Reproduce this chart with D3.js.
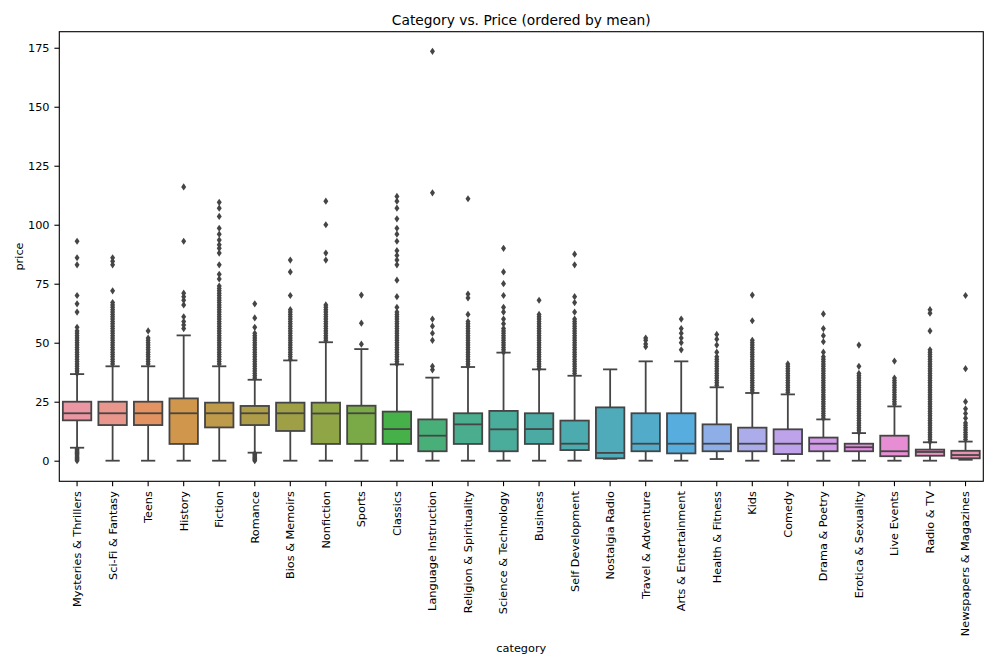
<!DOCTYPE html>
<html>
<head>
<meta charset="utf-8">
<script src="https://cdn.jsdelivr.net/npm/d3@7"></script>
<style>
  body { margin: 0; background: #fff; }
  svg { font-family: "DejaVu Sans", sans-serif; }
</style>
</head>
<body>
<svg id="svg"></svg>
<script>
//data

let categories = ["Mysteries & Thrillers", "Sci-Fi & Fantasy", "Teens", "History", "Fiction", "Romance",
  "Bios & Memoirs", "Nonfiction", "Sports", "Classics", "Language Instruction", "Religion & Spirituality",
  "Science & Technology", "Business", "Self Development", "Nostalgia Radio", "Travel & Adventure",
  "Arts & Entertainment", "Health & Fitness", "Kids", "Comedy", "Drama & Poetry", "Erotica & Sexuality",
  "Live Events", "Radio & TV", "Newspapers & Magazines"];

let q1 = [17.1, 15.1, 15.1, 7.1, 14.1, 15.1, 12.6, 7.1, 7.1, 7.1, 4.0, 7.1, 4.0, 7.1, 4.5, 1.0, 4.0, 3.1, 4.0, 4.0, 2.8, 4.0, 4.0, 1.9, 2.1, 1.0];
let medians = [20.1, 20.1, 20.1, 20.1, 20.1, 20.1, 20.1, 20.0, 20.1, 13.4, 10.6, 15.4, 13.3, 13.4, 7.2, 3.3, 7.2, 7.2, 7.2, 7.2, 7.2, 7.2, 5.7, 4.0, 3.7, 2.4];
let q3 = [25.0, 25.0, 25.0, 26.4, 24.6, 23.2, 24.6, 24.6, 23.3, 20.8, 17.5, 20.1, 21.1, 20.1, 17.0, 22.6, 20.1, 20.1, 15.4, 14.0, 13.3, 9.8, 7.2, 10.6, 4.7, 4.2];
let whiskerLow = [5.5, 0, 0, 0, 0, 3.4, 0, 0, 0, 0, 0, 0, 0, 0, 0, 0.8, 0, 0, 0.7, 0, 0, 0, 0, 0, 0, 0.4];
let whiskerHigh = [36.7, 40.0, 40.0, 53.1, 40.0, 34.3, 42.5, 50.2, 47.3, 40.8, 35.2, 39.7, 45.8, 38.7, 36.0, 38.7, 42.1, 42.1, 31.1, 28.7, 28.1, 17.5, 11.7, 23.0, 7.8, 8.1];

let outliers = [
  [0, 0.5, 1, 1.5, 2, 2.5, 3, 3.5, 4, 4.5, 5, 37, 38, 39, 40, 41, 42, 43, 44, 45, 46, 47, 48, 49, 50, 51, 52, 53, 54, 55, 56.5, 63, 66.5, 70, 83, 86, 93],
  [41, 42, 43, 44, 45, 46, 47, 48, 49, 50, 51, 52, 53, 54, 55, 56, 57, 58, 59, 60, 61, 62, 63, 64, 65, 66, 67, 72, 83, 84.5, 86],
  [41, 42, 43, 44, 45, 46, 47, 48, 49, 50, 51, 52, 55],
  [56, 57.5, 59, 61, 66, 68, 69.5, 71, 93, 116],
  [41, 42, 43, 44, 45, 46, 47, 48, 49, 50, 51, 52, 53, 54, 55, 56, 57, 58, 59, 60, 61, 62, 63, 64, 65, 66, 67, 68, 69, 70, 71, 72, 73, 74, 77, 79, 83, 88, 90, 91.5, 93.5, 96, 98.5, 103.5, 107, 109.5],
  [0, 0.5, 1, 1.5, 2, 2.5, 3, 35, 36, 37, 38, 39, 40, 41, 42, 43, 44, 45, 46, 47, 48, 49, 50, 51, 52, 53, 54, 56.5, 60.5, 66.5],
  [43, 44, 45, 46, 47, 48, 49, 50, 51, 52, 53, 54, 55, 56, 57, 58, 59, 60, 61, 62, 63, 64, 70, 80, 85],
  [51, 52, 53, 54, 55, 56, 57, 58, 59, 60, 61, 62, 63, 64, 65, 66, 85, 88, 100, 110],
  [49.4, 58.3, 70.2],
  [41, 42, 43, 44, 45, 46, 47, 48, 49, 50, 51, 52, 53, 54, 55, 56, 57, 58, 59, 60, 61, 62, 63, 65, 69.5, 76.5, 83, 85, 87, 89, 93, 96, 98.5, 102.5, 107, 110, 112],
  [38.5, 40, 51, 54, 57, 60, 113.5, 173.5],
  [40, 41, 42, 43, 44, 45, 46, 47, 48, 49, 50, 51, 52, 53, 54, 55, 56, 57, 58, 59, 62, 69, 70.6, 111],
  [46, 47, 48, 49, 50, 51, 52, 53, 54, 55, 56, 58, 60, 63, 65, 70, 75, 80, 90],
  [39, 40, 41, 42, 43, 44, 45, 46, 47, 48, 49, 50, 51, 52, 53, 54, 55, 56, 57, 58, 59, 60, 61, 62, 68],
  [37, 38, 39, 40, 41, 42, 43, 44, 45, 46, 47, 48, 49, 50, 51, 52, 53, 54, 55, 56, 57, 58, 59, 60, 63, 67, 69.5, 83, 87.5],
  [],
  [48.3, 49.5, 51, 52],
  [47, 50, 52, 54, 56, 60],
  [32, 33, 34, 35, 36, 37, 38, 39, 40, 41, 42, 43, 44, 46, 49, 51.5, 53.5],
  [29, 30, 31, 32, 33, 34, 35, 36, 37, 38, 39, 40, 41, 42, 43, 44, 45, 46, 47, 48, 49, 50, 51, 59.3, 70.2],
  [29, 30, 31, 32, 33, 34, 35, 36, 37, 38, 39, 40, 41],
  [18, 19, 20, 21, 22, 23, 24, 25, 26, 27, 28, 29, 30, 31, 32, 33, 34, 35, 36, 37, 38, 39, 40, 41, 42, 43, 44, 46, 50.4, 53, 56, 62.2],
  [12, 13, 14, 15, 16, 17, 18, 19, 20, 21, 22, 23, 24, 25, 26, 27, 28, 29, 30, 31, 32, 33, 34, 35, 36, 37, 40, 49],
  [24, 25, 26, 27, 28, 29, 30, 31, 32, 33, 34, 35, 42.2],
  [8, 9, 10, 11, 12, 13, 14, 15, 16, 17, 18, 19, 20, 21, 22, 23, 24, 25, 26, 27, 28, 29, 30, 31, 32, 33, 34, 35, 36, 37, 38, 39, 40, 41, 42, 43, 44, 45, 46, 47, 55, 62.5, 64],
  [9, 10, 11, 12, 13, 14, 15, 16, 18, 20, 22, 25, 39, 70]
];

let yTicks = [0, 25, 50, 75, 100, 125, 150, 175];

//variables

let svg = d3.select("#svg");
let width = 1000;
let height = 666;
let plotLeft = 59.3, plotRight = 983.3, plotTop = 31.7, plotBottom = 481.3;
let fontSize = 11.3;

let xScale;
let yScale;
let colors;
let gray;

//husl palette like seaborn uses for many categories

let husl = (H, S, L) => {
  let m = [[3.2406, -1.5372, -0.4986], [-0.9689, 1.8758, 0.0415], [0.0557, -0.2040, 1.0570]];
  let hrad = H / 180 * Math.PI;
  let sinH = Math.sin(hrad), cosH = Math.cos(hrad);
  let sub1 = Math.pow(L + 16, 3) / 1560896;
  let sub2 = sub1 > 0.008856 ? sub1 : L / 903.3;
  let mx = Infinity;
  m.forEach(r => {
    let tp = (0.99915 * r[0] + 1.05122 * r[1] + 1.14460 * r[2]) * sub2;
    let rb = 0.86330 * r[2] - 0.17266 * r[1];
    let lb = 0.12949 * r[2] - 0.38848 * r[0];
    let bot = (rb * sinH + lb * cosH) * sub2;
    [0, 1].forEach(t => {
      let C = L * (tp - 1.05122 * t) / (bot + 0.17266 * sinH * t);
      if (C > 0 && C < mx) mx = C;
    });
  });
  let C = mx / 100 * S;
  let U = Math.cos(hrad) * C, V = Math.sin(hrad) * C;
  let t = (L + 16) / 116;
  let varY = Math.pow(t, 3) > 0.008856 ? Math.pow(t, 3) : (116 * t - 16) / 903.3;
  let varU = U / (13 * L) + 0.19784;
  let varV = V / (13 * L) + 0.46834;
  let Y = varY;
  let X = -(9 * Y * varU) / ((varU - 4) * varV - varU * varV);
  let Z = (9 * Y - 15 * varV * Y - varV * X) / (3 * varV);
  let rgb = m.map(r => {
    let c = r[0] * X + r[1] * Y + r[2] * Z;
    c = c <= 0.0031308 ? 12.92 * c : 1.055 * Math.pow(c, 1 / 2.4) - 0.055;
    return Math.max(0, Math.min(1, c)) * 255;
  });
  return d3.rgb(rgb[0], rgb[1], rgb[2]);
}

let makeColors = () => {
  let n = categories.length;
  colors = categories.map((c, i) => {
    let h = ((i / n + 0.01) % 1) * 359;
    let hsl = d3.hsl(husl(h, 0.9 * 99, 0.7 * 99));
    hsl.s *= 0.75;
    return hsl;
  });
  let lum = d3.min(colors, c => c.l) * 0.6 * 255;
  gray = d3.rgb(lum, lum, lum).formatHex();
}

let makeBackground = () => {
  svg.attr("width", width).attr("height", height);
  svg.append("rect").attr("width", width).attr("height", height).attr("fill", "#fff");
}

let scaleFunction = () => {
  xScale = d3.scaleBand()
    .domain(categories)
    .range([plotLeft, plotRight])
    .padding(0);
  yScale = d3.scaleLinear()
    .domain([-8.73, 181.8])
    .range([plotBottom, plotTop]);
}

let makeAxes = () => {
  let xAxis = d3.axisBottom(xScale).tickSizeInner(4.9).tickSizeOuter(0).tickPadding(4.9);
  let yAxis = d3.axisLeft(yScale).tickValues(yTicks).tickSizeInner(4.9).tickSizeOuter(0).tickPadding(4.9);

  let gx = svg.append("g")
    .attr("id", "x-axis")
    .attr("transform", "translate(0, " + plotBottom + ")")
    .call(xAxis);
  gx.select(".domain").remove();
  gx.selectAll("line").attr("stroke", "#000").attr("stroke-width", 1.1);
  gx.selectAll("text")
    .attr("transform", "rotate(-90)")
    .attr("x", -9.8)
    .attr("y", 0)
    .attr("dy", "0.35em")
    .attr("text-anchor", "end")
    .attr("font-size", fontSize)
    .attr("font-family", "DejaVu Sans")
    .attr("fill", "#000");

  let gy = svg.append("g")
    .attr("id", "y-axis")
    .attr("transform", "translate(" + plotLeft + ", 0)")
    .call(yAxis);
  gy.select(".domain").remove();
  gy.selectAll("line").attr("stroke", "#000").attr("stroke-width", 1.1);
  gy.selectAll("text")
    .attr("font-size", fontSize)
    .attr("font-family", "DejaVu Sans")
    .attr("fill", "#000");
}

let makeGraph = () => {
  let bw = xScale.bandwidth() * 0.8;
  let lw = 1.8;
  let boxes = svg.append("g").selectAll("g")
    .data(categories)
    .enter()
    .append("g")
    .attr("transform", d => "translate(" + (xScale(d) + xScale.bandwidth() / 2) + ",0)");

  //whiskers
  boxes.append("line")
    .attr("x1", 0).attr("x2", 0)
    .attr("y1", (d, i) => yScale(whiskerHigh[i]))
    .attr("y2", (d, i) => yScale(q3[i]))
    .attr("stroke", gray).attr("stroke-width", lw);
  boxes.append("line")
    .attr("x1", 0).attr("x2", 0)
    .attr("y1", (d, i) => yScale(whiskerLow[i]))
    .attr("y2", (d, i) => yScale(q1[i]))
    .attr("stroke", gray).attr("stroke-width", lw);
  //caps
  [whiskerHigh, whiskerLow].forEach(arr => {
    boxes.append("line")
      .attr("x1", -bw / 4).attr("x2", bw / 4)
      .attr("y1", (d, i) => yScale(arr[i]))
      .attr("y2", (d, i) => yScale(arr[i]))
      .attr("stroke", gray).attr("stroke-width", lw);
  });
  //box
  boxes.append("rect")
    .attr("x", -bw / 2)
    .attr("width", bw)
    .attr("y", (d, i) => yScale(q3[i]))
    .attr("height", (d, i) => yScale(q1[i]) - yScale(q3[i]))
    .attr("fill", (d, i) => colors[i])
    .attr("stroke", gray).attr("stroke-width", lw);
  //median
  boxes.append("line")
    .attr("x1", -bw / 2).attr("x2", bw / 2)
    .attr("y1", (d, i) => yScale(medians[i]))
    .attr("y2", (d, i) => yScale(medians[i]))
    .attr("stroke", gray).attr("stroke-width", lw);
  //fliers
  boxes.selectAll("path")
    .data((d, i) => outliers[i])
    .enter()
    .append("path")
    .attr("d", "M0,-3.6L2.5,0L0,3.6L-2.5,0Z")
    .attr("transform", v => "translate(0," + yScale(v) + ")")
    .attr("fill", gray);
}

let makeFrame = () => {
  svg.append("rect")
    .attr("x", plotLeft).attr("y", plotTop)
    .attr("width", plotRight - plotLeft).attr("height", plotBottom - plotTop)
    .attr("fill", "none").attr("stroke", "#000").attr("stroke-width", 1.1);

  svg.append("text")
    .attr("x", (plotLeft + plotRight) / 2).attr("y", 24.5)
    .attr("text-anchor", "middle")
    .attr("font-size", 13.8)
    .text("Category vs. Price (ordered by mean)");

  svg.append("text")
    .attr("x", (plotLeft + plotRight) / 2).attr("y", 651.5)
    .attr("text-anchor", "middle")
    .attr("font-size", fontSize)
    .text("category");

  svg.append("text")
    .attr("transform", "translate(23," + (plotTop + plotBottom) / 2 + ") rotate(-90)")
    .attr("text-anchor", "middle")
    .attr("font-size", fontSize)
    .text("price");
}

makeBackground();
makeColors();
scaleFunction();
makeGraph();
makeAxes();
makeFrame();
</script>
</body>
</html>
